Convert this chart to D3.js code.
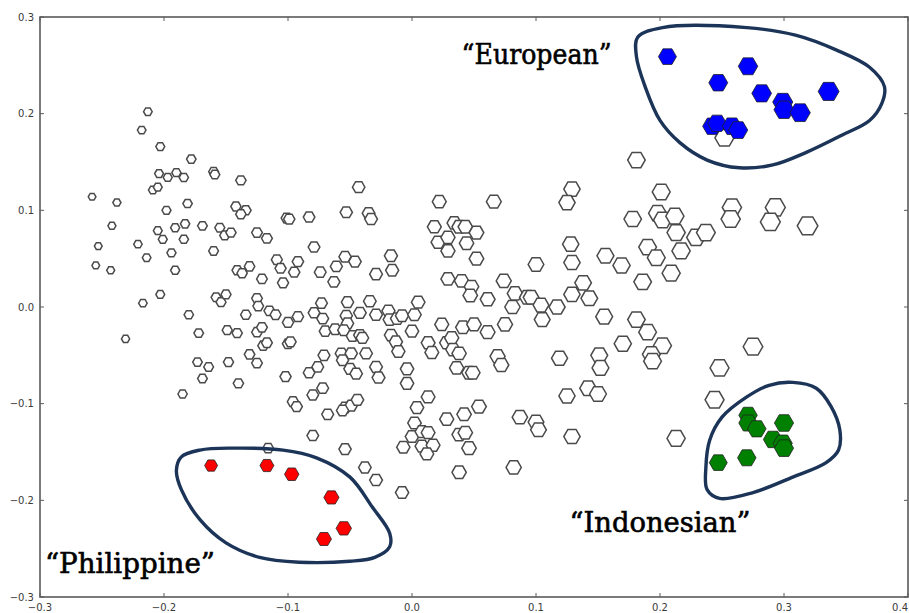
<!DOCTYPE html>
<html><head><meta charset="utf-8">
<script src="https://cdn.jsdelivr.net/npm/d3@7"></script>
<style>html,body{margin:0;padding:0;background:#fff;}svg{display:block;}</style>
</head><body>
<svg id="chart" width="909" height="613"></svg>
<script>
// ---- data ----
const xTicks = [-0.3,-0.2,-0.1,0.0,0.1,0.2,0.3,0.4];
const xTickLabels = ["\u22120.3","\u22120.2","\u22120.1","0.0","0.1","0.2","0.3","0.4"];
const yTicks = [-0.3,-0.2,-0.1,0.0,0.1,0.2,0.3];
const yTickLabels = ["\u22120.3","\u22120.2","\u22120.1","0.0","0.1","0.2","0.3"];

// other (unlabelled) points [x, y]
const otherPoints = [
[-0.213,0.202],[-0.218,0.183],[-0.203,0.166],[-0.178,0.153],[-0.204,0.138],[-0.197,0.134],[-0.190,0.139],[-0.184,0.134],
[-0.160,0.140],[-0.159,0.137],[-0.138,0.131],[-0.209,0.121],[-0.205,0.124],[-0.258,0.114],[-0.238,0.108],[-0.198,0.100],
[-0.181,0.107],[-0.142,0.104],[-0.134,0.100],[-0.138,0.096],[-0.242,0.084],[-0.205,0.079],[-0.191,0.082],[-0.183,0.086],
[-0.169,0.084],[-0.155,0.082],[-0.151,0.074],[-0.146,0.077],[-0.125,0.077],[-0.117,0.071],[-0.253,0.063],[-0.221,0.065],
[-0.201,0.070],[-0.184,0.070],[-0.214,0.051],[-0.194,0.056],[-0.160,0.058],[-0.255,0.043],[-0.243,0.038],[-0.191,0.038],
[-0.141,0.038],[-0.137,0.035],[-0.131,0.042],[-0.121,0.029],[-0.109,0.049],[-0.106,0.040],[-0.092,0.047],[-0.095,0.036],
[-0.104,0.025],[-0.101,0.092],[-0.099,0.091],[-0.083,0.093],[-0.043,0.124],[-0.053,0.098],[-0.035,0.097],[-0.033,0.091],
[-0.079,0.062],[-0.074,0.036],[-0.063,0.026],[-0.061,0.042],[-0.054,0.052],[-0.046,0.047],[-0.029,0.034],[-0.017,0.053],
[-0.016,0.038],[-0.203,0.013],[-0.158,0.010],[-0.154,0.005],[-0.150,0.013],[-0.125,0.009],[-0.124,0.001],[-0.115,-0.004],
[-0.110,-0.008],[-0.134,-0.008],[-0.180,-0.008],[-0.172,-0.027],[-0.149,-0.024],[-0.141,-0.027],[-0.125,-0.026],[-0.121,-0.021],
[-0.120,-0.040],[-0.117,-0.037],[-0.131,-0.049],[-0.125,-0.058],[-0.100,-0.038],[-0.098,-0.036],[-0.100,-0.016],[-0.092,-0.010],
[-0.079,-0.006],[-0.073,0.004],[-0.072,-0.012],[-0.070,-0.025],[-0.052,0.005],[-0.053,-0.009],[-0.052,-0.017],[-0.042,-0.006],
[-0.034,0.006],[-0.029,-0.008],[-0.019,-0.004],[-0.018,-0.013],[-0.012,-0.012],[-0.062,-0.023],[-0.055,-0.024],[-0.048,-0.030],
[-0.042,-0.029],[-0.040,-0.032],[-0.017,-0.029],[-0.013,-0.036],[-0.057,-0.048],[-0.049,-0.048],[-0.037,-0.048],[-0.056,-0.055],
[-0.071,-0.050],[-0.083,-0.068],[-0.076,-0.062],[-0.102,-0.072],[-0.050,-0.064],[-0.045,-0.069],[-0.029,-0.062],[-0.027,-0.073],
[-0.173,-0.057],[-0.164,-0.062],[-0.169,-0.074],[-0.148,-0.057],[-0.140,-0.079],[-0.185,-0.090],[-0.080,-0.091],[-0.072,-0.084],
[-0.096,-0.098],[-0.093,-0.103],[-0.054,-0.104],[-0.049,-0.102],[-0.044,-0.096],[-0.056,-0.107],[-0.068,-0.111],[-0.080,-0.133],
[-0.116,-0.146],[-0.054,-0.147],[-0.231,-0.033],[-0.217,0.004],[-0.008,-0.009],[0.002,-0.008],[0.005,0.005],[-0.011,-0.046],
[0.000,-0.025],[0.024,-0.018],[0.041,-0.021],[0.050,-0.018],[0.061,-0.026],[0.075,-0.018],[0.081,0.000],[0.105,-0.013],
[0.117,0.000],[0.013,-0.037],[0.016,-0.047],[0.028,-0.037],[0.032,-0.032],[0.033,-0.044],[0.038,-0.048],[0.036,-0.063],
[0.046,-0.068],[0.049,-0.068],[0.069,-0.051],[0.072,-0.060],[-0.004,-0.064],[-0.004,-0.079],[0.119,-0.053],[0.151,-0.050],
[0.152,-0.063],[0.170,-0.038],[0.181,-0.013],[0.190,-0.026],[0.202,-0.040],[0.193,-0.049],[0.194,-0.056],[0.125,-0.092],
[0.142,-0.084],[0.150,-0.090],[0.013,-0.093],[0.004,-0.104],[0.002,-0.120],[0.000,-0.134],[0.008,-0.129],[0.013,-0.130],
[-0.007,-0.145],[0.008,-0.144],[0.017,-0.143],[0.012,-0.152],[0.028,-0.116],[0.042,-0.111],[0.054,-0.103],[0.038,-0.132],
[0.043,-0.130],[0.046,-0.146],[0.087,-0.114],[0.100,-0.119],[0.102,-0.127],[0.129,-0.134],[0.213,-0.136],[0.038,-0.171],
[0.082,-0.166],[-0.008,-0.192],[-0.038,-0.166],[-0.029,-0.179],[0.022,0.109],[0.066,0.109],[0.018,0.083],[0.021,0.067],
[0.029,0.072],[0.029,0.058],[0.034,0.087],[0.038,0.083],[0.043,0.083],[0.052,0.077],[0.044,0.066],[0.052,0.050],
[0.029,0.029],[0.040,0.027],[0.048,0.021],[0.047,0.012],[0.061,0.008],[0.074,0.027],[0.083,0.014],[0.093,0.010],
[0.181,0.152],[0.252,0.175],[0.129,0.122],[0.125,0.108],[0.201,0.119],[0.178,0.091],[0.198,0.097],[0.202,0.090],
[0.212,0.094],[0.213,0.077],[0.229,0.072],[0.237,0.077],[0.258,0.103],[0.257,0.091],[0.293,0.103],[0.289,0.088],
[0.319,0.084],[0.128,0.065],[0.129,0.046],[0.100,0.044],[0.156,0.053],[0.169,0.043],[0.190,0.062],[0.197,0.051],
[0.217,0.058],[0.209,0.035],[0.186,0.026],[0.138,0.025],[0.129,0.013],[0.143,0.009],[0.096,0.010],[0.104,0.002],
[0.155,-0.010],[0.275,-0.041],[0.248,-0.063],[0.244,-0.096]
];

const europeanPoints = [
[0.206,0.259],[0.271,0.249],[0.247,0.232],[0.282,0.221],[0.336,0.223],[0.299,0.212],[0.300,0.204],[0.313,0.201],
[0.242,0.187],[0.246,0.190],[0.258,0.187],[0.263,0.183]
];
const indonesianPoints = [
[0.271,-0.112],[0.271,-0.120],[0.278,-0.126],[0.300,-0.120],[0.291,-0.137],[0.299,-0.141],[0.300,-0.146],
[0.247,-0.161],[0.270,-0.156]
];
const philippinePoints = [
[-0.162,-0.164],[-0.117,-0.164],[-0.097,-0.173],[-0.065,-0.197],[-0.055,-0.229],[-0.071,-0.240]
];

// hand-drawn cluster outlines (data coordinates)
const europeanOutline = [
[0.182,0.279],[0.202,0.289],[0.270,0.289],[0.310,0.281],[0.342,0.266],[0.369,0.248],[0.381,0.228],[0.379,0.211],
[0.369,0.193],[0.347,0.178],[0.318,0.160],[0.291,0.147],[0.264,0.144],[0.238,0.152],[0.216,0.170],[0.200,0.193],
[0.188,0.228],[0.181,0.259]
];
const indonesianOutline = [
[0.307,-0.078],[0.326,-0.084],[0.338,-0.103],[0.345,-0.127],[0.344,-0.148],[0.334,-0.161],[0.307,-0.176],[0.275,-0.192],
[0.248,-0.198],[0.238,-0.189],[0.237,-0.166],[0.240,-0.138],[0.250,-0.114],[0.270,-0.093],[0.288,-0.081]
];
const philippineOutline = [
[-0.190,-0.169],[-0.186,-0.155],[-0.171,-0.148],[-0.145,-0.146],[-0.104,-0.148],[-0.077,-0.156],[-0.050,-0.176],
[-0.032,-0.207],[-0.018,-0.234],[-0.018,-0.248],[-0.030,-0.259],[-0.050,-0.263],[-0.091,-0.264],[-0.123,-0.259],
[-0.150,-0.244],[-0.171,-0.220],[-0.186,-0.189]
];

const annotations = [
  {text:"\u201cEuropean\u201d", x:0.040, y:0.251, w:150},
  {text:"\u201cIndonesian\u201d", x:0.127, y:-0.233, w:181},
  {text:"\u201cPhilippine\u201d", x:-0.296, y:-0.275, w:170}
];

// ---- drawing ----
const svg = d3.select("#chart");
const x = d3.scaleLinear().domain([-0.3,0.4]).range([40,908]);
const y = d3.scaleLinear().domain([-0.3,0.3]).range([597,17]);
const r = d3.scaleLinear().domain([-0.26,0.32]).range([3.8,10.3]);

function hexPath(cx, cy, rad){
  const pts = d3.range(6).map(i => {
    const a = Math.PI/3*i;
    return [cx + rad*Math.cos(a), cy + rad*Math.sin(a)];
  });
  return "M" + pts.map(p => p[0].toFixed(2)+","+p[1].toFixed(2)).join("L") + "Z";
}

// white points
svg.append("g").selectAll("path").data(otherPoints).join("path")
  .attr("d", d => hexPath(x(d[0]), y(d[1]), r(d[0])))
  .attr("fill","#fff").attr("stroke","#4a4a4a").attr("stroke-width",1.5);

function colored(data, fill, extra){
  svg.append("g").selectAll("path").data(data).join("path")
    .attr("d", d => hexPath(x(d[0]), y(d[1]), r(d[0]) + extra))
    .attr("fill",fill).attr("stroke","#222").attr("stroke-width",0.8);
}
colored(europeanPoints, "#0000ff", 0);
colored(indonesianPoints, "#008000", -0.5);
colored(philippinePoints, "#ff0000", 1.6);

// frame
const g = svg.append("g");
g.append("rect").attr("x",x(-0.3)).attr("y",y(0.3))
  .attr("width",x(0.4)-x(-0.3)).attr("height",y(-0.3)-y(0.3))
  .attr("fill","none").attr("stroke","#5a5a5a").attr("stroke-width",1.6);

// ticks (inward, both sides)
xTicks.forEach(t => {
  g.append("line").attr("x1",x(t)).attr("x2",x(t)).attr("y1",y(-0.3)).attr("y2",y(-0.3)-4).attr("stroke","#5a5a5a");
  g.append("line").attr("x1",x(t)).attr("x2",x(t)).attr("y1",y(0.3)).attr("y2",y(0.3)+4).attr("stroke","#5a5a5a");
});
yTicks.forEach(t => {
  g.append("line").attr("x1",x(-0.3)).attr("x2",x(-0.3)+4).attr("y1",y(t)).attr("y2",y(t)).attr("stroke","#5a5a5a");
  g.append("line").attr("x1",x(0.4)).attr("x2",x(0.4)-4).attr("y1",y(t)).attr("y2",y(t)).attr("stroke","#5a5a5a");
});
g.selectAll("text.xt").data(xTicks).join("text").attr("class","xt")
  .attr("x",d=>x(d)).attr("y",611)
  .attr("text-anchor",(d,i)=> i === xTicks.length-1 ? "end" : "middle")
  .attr("font-family","DejaVu Sans").attr("font-size",10).attr("fill","#3a3a3a")
  .text((d,i)=>xTickLabels[i]);
g.selectAll("text.yt").data(yTicks).join("text").attr("class","yt")
  .attr("x",34).attr("y",d=>y(d)).attr("dy","0.35em").attr("text-anchor","end")
  .attr("font-family","DejaVu Sans").attr("font-size",10).attr("fill","#3a3a3a")
  .text((d,i)=>yTickLabels[i]);

// outlines
const loop = d3.line().x(d=>x(d[0])).y(d=>y(d[1])).curve(d3.curveCatmullRomClosed.alpha(0.5));
[europeanOutline, indonesianOutline, philippineOutline].forEach(o => {
  svg.append("path").attr("d", loop(o)).attr("fill","none")
    .attr("stroke","#1b3458").attr("stroke-width",3.4);
});

// annotation labels
svg.selectAll("text.ann").data(annotations).join("text").attr("class","ann")
  .attr("x",d=>x(d.x)).attr("y",d=>y(d.y))
  .attr("font-family","DejaVu Serif").attr("font-size",27).attr("fill","#000")
  .attr("stroke","#000").attr("stroke-width",0.6)
  .attr("textLength",d=>d.w).attr("lengthAdjust","spacingAndGlyphs")
  .text(d=>d.text);
</script>
</body></html>
